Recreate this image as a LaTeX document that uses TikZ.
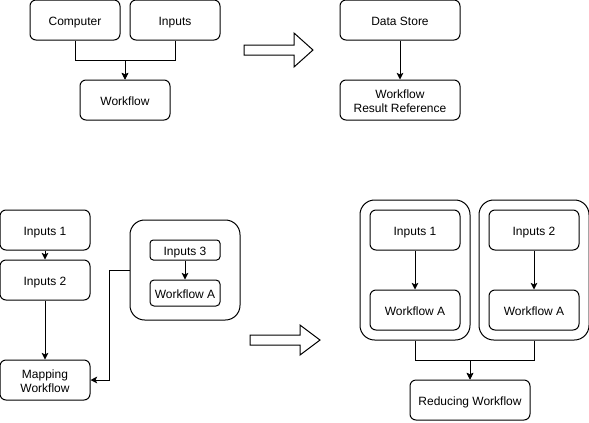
\documentclass[tikz,border=0pt]{standalone}
\usepackage{fontspec}
\setmainfont{Liberation Sans}
\usetikzlibrary{arrows.meta}
\tikzset{
  box/.style={draw, line width=0.75pt, rounded corners=4.5pt, align=center,
    font=\fontsize{9}{10.5}\selectfont, inner sep=0pt,
    text height=8.5pt, text depth=0.5pt,
    minimum width=67.5pt, minimum height=30pt},
  twoline/.style={text height=19pt, text depth=0.5pt},
  wide/.style={minimum width=90pt},
  small/.style={rounded corners=2.5pt, minimum width=52.5pt},
  container/.style={draw, line width=0.75pt, rounded corners=11pt, inner sep=0pt,
    minimum width=82.5pt},
  conn/.style={line width=0.75pt},
  arr/.style={conn, -{Stealth[length=5pt,width=5pt,inset=1.2pt]}},
  bigarrow/.style={draw, line width=0.75pt, fill=white},
}
\begin{document}
\begin{tikzpicture}[x=0.75pt,y=-0.75pt]
\useasboundingbox (0,0) rectangle (589,422);
% top left
\node[box] (comp) at (75,20) {Computer};
\node[box] (inp) at (175,20) {Inputs};
\node[box] (wf) at (125,100) {Workflow};
\draw[arr] (comp.south) -- ++(0,20) -| (wf.north);
\draw[arr] (inp.south) -- ++(0,20) -| (wf.north);
% top arrow
\draw[bigarrow] (244,45) -- (294,45) -- (294,33) -- (313,50) -- (294,67) -- (294,55) -- (244,55) -- cycle;
% top right
\node[box, wide] (ds) at (400,20) {Data Store};
\node[box, wide, twoline] (wrr) at (400,100) {Workflow\\Result Reference};
\draw[arr] (ds.south) -- (wrr.north);
% bottom left
\node[box] (ina) at (45,230) {Inputs 1};
\node[box] (inb) at (45,280) {Inputs 2};
\node[box, twoline] (mw) at (45,380) {Mapping\\Workflow};
\draw[arr] (ina.south) -- (inb.north);
\draw[arr] (inb.south) -- (mw.north);
\node[container, minimum height=75pt] (cl) at (185,270) {};
\node[box, small, minimum height=15pt] (inc) at (185,250) {Inputs 3};
\node[box, small, minimum height=19.5pt, rounded corners=3pt] (wa0) at (185,293) {Workflow A};
\draw[arr] (inc.south) -- (wa0.north);
\draw[arr] (cl.west) -- ++(-20,0) |- (mw.east);
% bottom arrow
\draw[bigarrow] (250,335) -- (300,335) -- (300,325) -- (320,340) -- (300,355) -- (300,345) -- (250,345) -- cycle;
% bottom right
\node[container, minimum height=105pt] (ca) at (415,270) {};
\node[container, minimum height=105pt] (cb) at (534,270) {};
\node[box] (ria) at (415,230) {Inputs 1};
\node[box] (rwa) at (415,310) {Workflow A};
\node[box] (rib) at (534,230) {Inputs 2};
\node[box] (rwb) at (534,310) {Workflow A};
\draw[arr] (ria.south) -- (rwa.north);
\draw[arr] (rib.south) -- (rwb.north);
\node[box, wide] (red) at (470,400) {Reducing Workflow};
\draw[arr] (ca.south) -- ++(0,20) -| (red.north);
\draw[arr] (cb.south) -- ++(0,20) -| (red.north);
\end{tikzpicture}
\end{document}
